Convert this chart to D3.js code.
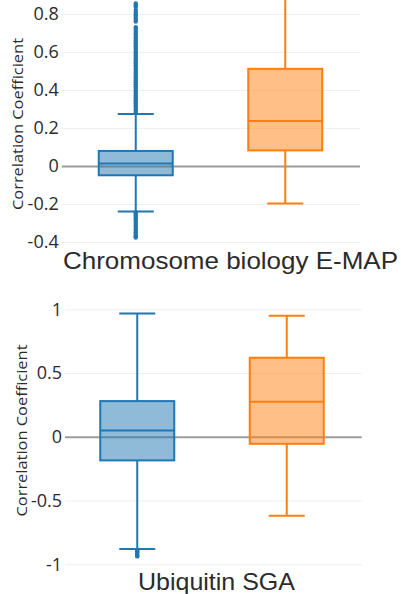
<!DOCTYPE html>
<html>
<head>
<meta charset="utf-8">
<script src="https://cdn.jsdelivr.net/npm/d3@7"></script>
<style>
  html, body { margin: 0; padding: 0; background: #fff; }
  svg { display: block; }
</style>
</head>
<body>
<div id="chart"></div>
<script>
// ---------------- data ----------------
const groups = ["Group A", "Group B"];
const seriesColors = ["#1f77b4", "#ff7f0e"];

const panelTitles = ["Chromosome biology E-MAP", "Ubiquitin SGA"];
const yAxisTitle = "Correlation Coefficient";

// Chromosome biology E-MAP
const emapTicks = [-0.4, -0.2, 0, 0.2, 0.4, 0.6, 0.8];
const emapQ1 = [-0.049, 0.082];
const emapMedian = [0.013, 0.236];
const emapQ3 = [0.079, 0.511];
const emapLowerWhisker = [-0.239, -0.197];
const emapUpperWhisker = [0.273, 0.95];
const emapOutliersA = [
  0.28, 0.29, 0.30, 0.31, 0.32, 0.33, 0.34, 0.35, 0.36, 0.37, 0.38, 0.39,
  0.40, 0.41, 0.42, 0.43, 0.44, 0.45, 0.46, 0.47, 0.48, 0.49, 0.50, 0.51,
  0.52, 0.53, 0.54, 0.55, 0.56, 0.57, 0.58, 0.59, 0.60, 0.61, 0.62, 0.63,
  0.64, 0.65, 0.66, 0.67, 0.68, 0.69, 0.70, 0.71, 0.72, 0.73,
  0.76, 0.77, 0.78, 0.79, 0.80, 0.81, 0.82, 0.836, 0.846, 0.855,
  -0.245, -0.25, -0.26, -0.27, -0.28, -0.29, -0.30, -0.31, -0.32, -0.33,
  -0.34, -0.35, -0.36, -0.37, -0.376
];
const emapOutliersB = [];

// Ubiquitin SGA
const ubiTicks = [-1, -0.5, 0, 0.5, 1];
const ubiQ1 = [-0.185, -0.055];
const ubiMedian = [0.05, 0.275];
const ubiQ3 = [0.28, 0.62];
const ubiLowerWhisker = [-0.88, -0.62];
const ubiUpperWhisker = [0.968, 0.949];
const ubiOutliersA = [-0.89, -0.90, -0.91, -0.92, -0.93, -0.938];
const ubiOutliersB = [];

// ---------------- layout ----------------
const W = 401, H = 594;
const svg = d3.select("#chart").append("svg")
  .attr("width", W).attr("height", H);

const panels = [
  {
    title: panelTitles[0], ticks: emapTicks,
    q1: emapQ1, med: emapMedian, q3: emapQ3, lo: emapLowerWhisker, hi: emapUpperWhisker,
    outliers: [emapOutliersA, emapOutliersB],
    yDomain: [-0.4, 0.8], yRange: [242, 13.9],
    gridX: [61.7, 360], bandX: [61, 360],
    clipTop: -20, clipBottom: 250,
    yTitleX: 23, yTitleY: 124,
    titleX: 63, titleY: 269, titleLen: 335
  },
  {
    title: panelTitles[1], ticks: ubiTicks,
    q1: ubiQ1, med: ubiMedian, q3: ubiQ3, lo: ubiLowerWhisker, hi: ubiUpperWhisker,
    outliers: [ubiOutliersA, ubiOutliersB],
    yDomain: [-1, 1], yRange: [564.3, 309.3],
    gridX: [65, 361.7], bandX: [62.5, 361.5],
    clipTop: 295, clipBottom: 570,
    yTitleX: 27, yTitleY: 430.5,
    titleX: 138, titleY: 590, titleLen: 157
  }
];

const boxW = 74, capW = 36;

panels.forEach((p, pi) => {
  const y = d3.scaleLinear().domain(p.yDomain).range(p.yRange);
  const x = d3.scaleBand().domain(groups).range(p.bandX);
  const g = svg.append("g");

  const clipId = "clip" + pi;
  svg.append("clipPath").attr("id", clipId)
    .append("rect")
    .attr("x", 0).attr("y", p.clipTop)
    .attr("width", W).attr("height", p.clipBottom - p.clipTop);

  // grid lines + tick labels via axis
  const axis = d3.axisLeft(y)
    .tickValues(p.ticks)
    .tickSize(-(p.gridX[1] - p.gridX[0]))
    .tickPadding(3)
    .tickFormat(d => String(d));
  const ag = g.append("g")
    .attr("transform", `translate(${p.gridX[0]},0)`)
    .call(axis);
  ag.select(".domain").remove();
  ag.selectAll(".tick line")
    .attr("stroke", d => d === 0 ? "#9b9b9b" : "#efefef")
    .attr("stroke-width", d => d === 0 ? 2 : 1);
  ag.selectAll(".tick text")
    .attr("fill", "#2b2b2b")
    .style("font-family", "'Open Sans', sans-serif")
    .style("font-size", "18px");

  // boxes
  const bg = g.append("g").attr("clip-path", `url(#${clipId})`);
  groups.forEach((grp, i) => {
    const cx = x(grp) + x.bandwidth() / 2;
    const col = seriesColors[i];
    // whiskers
    bg.append("line")
      .attr("x1", cx).attr("x2", cx)
      .attr("y1", y(p.q3[i])).attr("y2", y(p.hi[i]))
      .attr("stroke", col).attr("stroke-width", 2);
    bg.append("line")
      .attr("x1", cx).attr("x2", cx)
      .attr("y1", y(p.q1[i])).attr("y2", y(p.lo[i]))
      .attr("stroke", col).attr("stroke-width", 2);
    [p.hi[i], p.lo[i]].forEach(v => {
      bg.append("line")
        .attr("x1", cx - capW / 2).attr("x2", cx + capW / 2)
        .attr("y1", y(v)).attr("y2", y(v))
        .attr("stroke", col).attr("stroke-width", 2);
    });
    // box
    bg.append("rect")
      .attr("x", cx - boxW / 2)
      .attr("y", y(p.q3[i]))
      .attr("width", boxW)
      .attr("height", y(p.q1[i]) - y(p.q3[i]))
      .attr("fill", col).attr("fill-opacity", 0.5)
      .attr("stroke", col).attr("stroke-width", 2);
    // median
    bg.append("line")
      .attr("x1", cx - boxW / 2).attr("x2", cx + boxW / 2)
      .attr("y1", y(p.med[i])).attr("y2", y(p.med[i]))
      .attr("stroke", col).attr("stroke-width", 2);
    // outliers
    bg.selectAll(null).data(p.outliers[i]).enter().append("circle")
      .attr("cx", cx).attr("cy", d => y(d)).attr("r", 2.2)
      .attr("fill", col);
  });

  // y axis title
  g.append("text")
    .attr("transform", `translate(${p.yTitleX},${p.yTitleY}) rotate(-90)`)
    .attr("text-anchor", "middle")
    .attr("fill", "#2b2b2b")
    .attr("textLength", 172)
    .attr("lengthAdjust", "spacingAndGlyphs")
    .style("font-family", "'Open Sans', sans-serif")
    .style("font-size", "14px")
    .text(yAxisTitle);

  // panel title
  g.append("text")
    .attr("x", p.titleX).attr("y", p.titleY)
    .attr("fill", "#2b2b2b")
    .attr("textLength", p.titleLen)
    .attr("lengthAdjust", "spacingAndGlyphs")
    .style("font-family", "'Liberation Sans', Arial, sans-serif")
    .style("font-size", "24px")
    .text(p.title);
});
</script>
</body>
</html>
